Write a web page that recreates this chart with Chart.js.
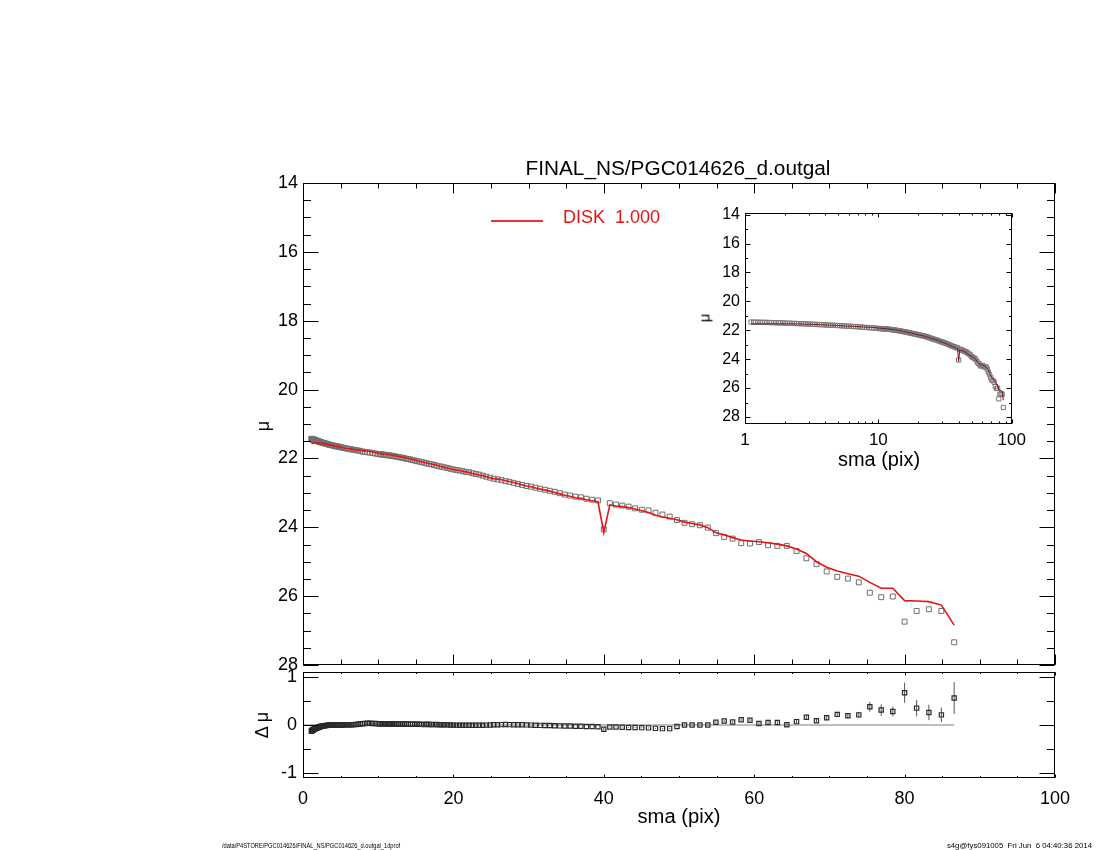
<!DOCTYPE html>
<html>
<head>
<meta charset="utf-8">
<title>PGC014626 1D profile</title>
<script src="https://cdn.jsdelivr.net/npm/chart.js@4.4.0/dist/chart.umd.min.js"></script>
<style>
html,body{margin:0;padding:0;background:#fff;}
#wrap{position:relative;width:1100px;height:850px;overflow:hidden;background:#fff;font-family:'Liberation Sans',Helvetica,Arial,sans-serif;color:#000;}
#wrap canvas{position:absolute;left:0;top:0;}
.t{position:absolute;white-space:pre;line-height:1;}
.red{color:rgb(230,20,20);}
#legLine{position:absolute;left:491px;top:220px;width:52px;height:2px;background:rgb(240,50,50);z-index:5;}
</style>
</head>
<body>
<div id="wrap">
  <canvas id="mainChart" width="1100" height="850"></canvas>
  <canvas id="resChart" width="1100" height="850"></canvas>
  <canvas id="insetChart" width="1100" height="850"></canvas>

  <div class="t" data-x="678" data-y="168" data-w="305" style="font-size:21px">FINAL_NS/PGC014626_d.outgal</div>
  <div id="legLine"></div>
  <div class="t red" data-x="563" data-y="217" data-w="97" data-a="l" style="font-size:18px">DISK  1.000</div>
  <div class="t" data-x="263" data-y="426" data-r="1" style="font-size:18px">μ</div>
  <div class="t" data-x="262" data-y="725" data-r="1" style="font-size:18px">Δ μ</div>
  <div class="t" data-x="679" data-y="816" data-w="83" style="font-size:19px">sma (pix)</div>
  <div class="t" data-x="704" data-y="318" data-r="1" style="font-size:15px">μ</div>
  <div class="t" data-x="879" data-y="460" data-w="82" style="font-size:19px">sma (pix)</div>
  <div class="t" data-x="222" data-y="846" data-w="178" data-a="l" data-s="1" style="font-size:8px">/data/P4STORE/PGC014626/FINAL_NS/PGC014626_d.outgal_1dprof</div>
  <div class="t" data-x="1092" data-y="846" data-w="145" data-a="r" data-s="1" style="font-size:8px">s4g@fys091005  Fri Jun  6 04:40:36 2014</div>
</div>
<script>
// ---- data ----
const sma = [
  1.11,1.16,1.20,1.25,1.30,1.35,1.41,1.46,1.52,1.58,
  1.65,1.71,1.78,1.85,1.93,2.00,2.08,2.17,2.25,2.34,
  2.44,2.53,2.64,2.74,2.85,2.96,3.08,3.21,3.33,3.47,
  3.61,3.75,3.90,4.06,4.22,4.39,4.56,4.75,4.94,5.13,
  5.34,5.55,5.78,6.01,6.25,6.50,6.76,7.03,7.31,7.60,
  7.90,8.22,8.55,8.89,9.25,9.62,
  10.00,10.20,10.41,10.61,10.83,11.04,11.26,11.49,11.72,11.95,
  12.19,12.44,12.69,12.94,13.20,13.46,13.73,14.01,14.29,14.57,
  14.86,15.16,15.46,15.77,16.09,16.41,16.74,17.07,17.41,17.76,
  18.12,18.48,18.85,19.23,19.61,20.00,20.40,20.81,21.23,21.65,
  22.08,22.53,22.98,23.44,23.90,24.38,24.87,25.37,25.87,26.39,
  26.92,27.46,28.01,28.57,29.14,29.72,30.32,30.92,31.54,32.17,
  32.81,33.47,34.14,34.82,35.52,36.23,36.95,37.69,38.45,39.22,
  40.00,
  40.80,41.62,42.45,43.30,44.16,45.05,45.95,46.87,47.80,48.76,
  49.73,50.73,51.74,52.78,53.83,54.91,56.01,57.13,58.27,59.44,
  60.63,61.84,63.08,64.34,65.63,66.94,68.28,69.64,71.04,72.46,
  73.91,75.38,76.89,78.43,80.00,81.60,83.23,84.89,86.59
];
// observed surface brightness
const mu = [
  21.43,21.44,21.44,21.44,21.45,21.45,21.45,21.46,21.46,21.47,
  21.47,21.48,21.48,21.49,21.49,21.50,21.51,21.51,21.52,21.53,
  21.53,21.54,21.55,21.55,21.56,21.57,21.57,21.58,21.59,21.60,
  21.61,21.61,21.62,21.63,21.64,21.65,21.65,21.66,21.67,21.68,
  21.69,21.70,21.71,21.72,21.73,21.74,21.75,21.76,21.77,21.78,
  21.80,21.81,21.82,21.83,21.84,21.86,
  21.87,21.88,21.88,21.89,21.89,21.90,21.91,21.91,21.92,21.93,
  21.94,21.95,21.96,21.97,21.98,21.99,22.01,22.02,22.03,22.05,
  22.06,22.08,22.09,22.11,22.12,22.14,22.16,22.17,22.19,22.21,
  22.23,22.24,22.26,22.28,22.30,22.32,22.34,22.35,22.37,22.39,
  22.40,22.43,22.45,22.47,22.50,22.53,22.56,22.59,22.61,22.63,
  22.66,22.68,22.71,22.74,22.77,22.80,22.82,22.85,22.88,22.91,
  22.94,22.97,23.01,23.05,23.08,23.11,23.13,23.17,23.20,23.22,
  24.06,
  23.30,23.34,23.37,23.40,23.45,23.49,23.51,23.58,23.63,23.69,
  23.79,23.87,23.91,23.94,24.01,24.17,24.28,24.33,24.46,24.47,
  24.43,24.52,24.54,24.54,24.69,24.90,25.07,25.28,25.44,25.49,
  25.60,25.90,26.03,26.01,26.74,26.43,26.38,26.43,27.34
];
// DISK model (red line)
const model = [
  21.56,21.56,21.56,21.55,21.56,21.55,21.55,21.55,21.55,21.55,
  21.55,21.55,21.55,21.55,21.55,21.55,21.56,21.55,21.56,21.56,
  21.56,21.56,21.57,21.57,21.58,21.58,21.58,21.59,21.60,21.60,
  21.61,21.61,21.62,21.63,21.64,21.65,21.65,21.66,21.67,21.68,
  21.69,21.70,21.71,21.72,21.72,21.73,21.74,21.75,21.76,21.76,
  21.78,21.78,21.79,21.80,21.81,21.83,
  21.85,21.86,21.86,21.87,21.87,21.88,21.89,21.89,21.90,21.91,
  21.92,21.93,21.94,21.95,21.96,21.97,21.99,22.00,22.01,22.04,
  22.04,22.07,22.08,22.10,22.11,22.13,22.15,22.16,22.18,22.20,
  22.22,22.24,22.26,22.28,22.30,22.32,22.34,22.35,22.37,22.39,
  22.41,22.44,22.46,22.48,22.50,22.53,22.56,22.59,22.60,22.62,
  22.65,22.67,22.70,22.73,22.77,22.80,22.82,22.86,22.89,22.92,
  22.95,22.99,23.03,23.07,23.10,23.14,23.16,23.20,23.23,23.26,
  24.15,
  23.35,23.38,23.40,23.43,23.47,23.52,23.57,23.65,23.70,23.74,
  23.78,23.85,23.89,23.93,24.01,24.16,24.22,24.30,24.37,24.40,
  24.42,24.45,24.49,24.54,24.63,24.76,25.00,25.16,25.27,25.35,
  25.42,25.60,25.77,25.77,26.13,26.14,26.16,26.26,26.84
];
// residual (data - model)
const dmu = [
  -0.13,-0.12,-0.115,-0.11,-0.105,-0.10,-0.095,-0.09,-0.085,-0.08,
  -0.075,-0.07,-0.065,-0.06,-0.055,-0.05,-0.045,-0.04,-0.035,-0.03,
  -0.027,-0.024,-0.02,-0.017,-0.015,-0.013,-0.01,-0.008,-0.006,-0.005,
  -0.004,-0.003,-0.002,0,0,0,0,0,0,0,
  0.002,0.003,0.004,0.005,0.006,0.007,0.008,0.01,0.015,0.02,
  0.025,0.03,0.035,0.035,0.033,0.03,
  0.025,0.025,0.025,0.025,0.025,0.025,0.022,0.02,0.022,0.025,
  0.022,0.02,0.018,0.02,0.022,0.02,0.018,0.02,0.018,0.015,
  0.017,0.015,0.015,0.013,0.012,0.014,0.012,0.01,0.008,0.01,
  0.006,0.004,0.004,0.002,0,-0.002,-0.003,-0.004,-0.005,-0.004,
  -0.005,-0.006,-0.005,-0.006,-0.004,-0.002,0,0.004,0.006,0.008,
  0.01,0.008,0.006,0.006,0.004,0.002,-0.002,-0.005,-0.008,-0.01,
  -0.012,-0.015,-0.018,-0.02,-0.022,-0.025,-0.027,-0.03,-0.03,-0.035,
  -0.09,
  -0.04,-0.04,-0.045,-0.05,-0.05,-0.055,-0.06,-0.07,-0.075,-0.075,
  -0.03,0,0,0,0,0.056,0.083,0.063,0.11,0.10,
  0.03,0.05,0.05,0.007,0.07,0.16,0.09,0.15,0.22,0.19,
  0.21,0.38,0.31,0.28,0.67,0.35,0.26,0.21,0.56
];
// residual error bars, for the last points (sma >= 40)
const dmuErr = [
  0.03,
  0.01,0.01,0.01,0.01,0.01,0.01,0.01,0.01,0.01,0.01,
  0.015,0.015,0.015,0.015,0.015,
  0.02,0.02,0.02,0.025,0.025,0.025,0.03,0.03,0.03,0.035,
  0.05,0.04,0.045,0.055,0.05,0.06,0.10,0.12,0.10,0.21,
  0.17,0.16,0.15,0.33
];

// ---- axis ticks ----
const smaTicks = [0,20,40,60,80,100];
const muTicks = [14,16,18,20,22,24,26,28];
const dmuTicks = [-1,0,1];
const logTicks = [1,10,100];

const RED = 'rgb(230,20,20)';
const FONT = "'Liberation Sans', Helvetica, Arial, sans-serif";
Chart.defaults.font.family = FONT;
Chart.defaults.color = '#000';

function steps(a, b, d){ const out = []; for(let v = a; v <= b + 1e-9; v += d) out.push(+v.toFixed(4)); return out; }

// IDL style box: frame + inward ticks on all four sides
function framePlugin(t){
  return {
    id:'idlFrame',
    afterDatasetsDraw(chart){
      const {ctx, chartArea:a, scales} = chart;
      const sx = scales.x, sy = scales.y;
      const L = Math.round(a.left)+0.5, R = Math.round(a.right)-0.5;
      const T = Math.round(a.top)+0.5, B = Math.round(a.bottom)-0.5;
      ctx.save();
      ctx.strokeStyle = '#000'; ctx.lineWidth = 1;
      ctx.strokeRect(L, T, R-L, B-T);
      ctx.beginPath();
      const xt = (vals, len) => vals.forEach(v => {
        const p = Math.round(sx.getPixelForValue(v))+0.5;
        ctx.moveTo(p,B); ctx.lineTo(p,B-len); ctx.moveTo(p,T); ctx.lineTo(p,T+len);
      });
      const yt = (vals, len) => vals.forEach(v => {
        const p = Math.round(sy.getPixelForValue(v))+0.5;
        ctx.moveTo(L,p); ctx.lineTo(L+len,p); ctx.moveTo(R,p); ctx.lineTo(R-len,p);
      });
      xt(t.xMajor, t.xLen); xt(t.xMinor, t.xLen/2);
      yt(t.yMajor, t.yLen); yt(t.yMinor, t.yLen/2);
      ctx.stroke();
      ctx.restore();
    }
  };
}

const pts = (ys) => sma.map((s,i) => ({x:s, y:ys[i]}));
const noAxisLines = { grid:{display:false, drawTicks:false}, border:{display:false} };
const baseOpts = { responsive:false, animation:false, events:[], plugins:{legend:{display:false}, tooltip:{enabled:false}} };

// ---- main profile ----
new Chart(document.getElementById('mainChart'), {
  type:'scatter',
  data:{ datasets:[
    { type:'line', data:pts(model), borderColor:RED, borderWidth:1.6, pointRadius:0, fill:false, tension:0 },
    { data:pts(mu), pointStyle:'rect', pointRadius:3.5, borderColor:'#707070', borderWidth:1, backgroundColor:'rgba(0,0,0,0)' }
  ]},
  options:{ ...baseOpts,
    layout:{ padding:{left:0, top:183, right:45, bottom:185} },
    scales:{
      x:{ type:'linear', min:0, max:100, display:false },
      y:{ type:'linear', min:14, max:28, reverse:true, ...noAxisLines,
          afterFit:s => { s.width = 303; },
          afterBuildTicks:s => { s.ticks = muTicks.map(v => ({value:v})); },
          ticks:{ padding:5, font:{size:18}, autoSkip:false } }
    }
  },
  plugins:[framePlugin({ xMajor:smaTicks, xMinor:steps(0,100,5), xLen:10, yMajor:muTicks, yMinor:steps(14,28,0.5), yLen:15 })]
});

// ---- residual panel ----
const off = sma.length - dmuErr.length;
const errLines = [];
dmuErr.forEach((e,i) => {
  const s = sma[off+i], d = dmu[off+i];
  errLines.push({x:s, y:d-e}, {x:s, y:d+e}, {x:s, y:null});
});
new Chart(document.getElementById('resChart'), {
  type:'scatter',
  data:{ datasets:[
    { data:pts(dmu), pointStyle:'rect', pointRadius:3, borderColor:'#2a2a2a', borderWidth:1.2, backgroundColor:'rgba(0,0,0,0)' },
    { type:'line', data:errLines, borderColor:'#555', borderWidth:1, pointRadius:0, spanGaps:false },
    { type:'line', data:[{x:0, y:0}, {x:sma[sma.length-1], y:0}], borderColor:'#a8a8a8', borderWidth:1.5, pointRadius:0 }
  ]},
  options:{ ...baseOpts,
    layout:{ padding:{left:0, top:672, right:45, bottom:37} },
    scales:{
      x:{ type:'linear', min:0, max:100, ...noAxisLines,
          afterFit:s => { s.height = 35; },
          afterBuildTicks:s => { s.ticks = smaTicks.map(v => ({value:v})); },
          ticks:{ padding:10, font:{size:18}, autoSkip:false, maxRotation:0 } },
      y:{ type:'linear', min:-1.1, max:1.1, ...noAxisLines,
          afterFit:s => { s.width = 303; },
          afterBuildTicks:s => { s.ticks = dmuTicks.map(v => ({value:v})); },
          ticks:{ padding:6, font:{size:18}, autoSkip:false } }
    }
  },
  plugins:[framePlugin({ xMajor:smaTicks, xMinor:steps(0,100,5), xLen:3, yMajor:dmuTicks, yMinor:[-0.5,0.5], yLen:15 })]
});

// ---- inset, log sma ----
const logMinor = [2,3,4,5,6,7,8,9,20,30,40,50,60,70,80,90];
new Chart(document.getElementById('insetChart'), {
  type:'scatter',
  data:{ datasets:[
    { type:'line', data:pts(model), borderColor:'rgb(120,20,20)', borderWidth:1, pointRadius:0, fill:false, tension:0 },
    { data:pts(mu), pointStyle:'rect', pointRadius:3, borderColor:'#7a7a7a', borderWidth:1, backgroundColor:'rgba(0,0,0,0)' }
  ]},
  options:{ ...baseOpts,
    layout:{ padding:{left:690, top:212.5, right:88.3, bottom:391.5} },
    scales:{
      x:{ type:'logarithmic', min:1, max:100, ...noAxisLines,
          afterFit:s => { s.height = 35; },
          afterBuildTicks:s => { s.ticks = logTicks.map(v => ({value:v})); },
          ticks:{ padding:7, font:{size:17}, autoSkip:false, maxRotation:0, callback:v => String(v) } },
      y:{ type:'linear', min:13.85, max:28.45, reverse:true, ...noAxisLines,
          afterFit:s => { s.width = 55; },
          afterBuildTicks:s => { s.ticks = muTicks.map(v => ({value:v})); },
          ticks:{ padding:5, font:{size:16}, autoSkip:false } }
    }
  },
  plugins:[framePlugin({ xMajor:logTicks, xMinor:logMinor, xLen:4, yMajor:muTicks, yMinor:steps(15,27,2), yLen:5 })]
});

// ---- place the html labels ----
document.querySelectorAll('.t').forEach(el => {
  const d = el.dataset;
  const x = +d.x, y = +d.y;
  let k = 1;
  if(d.w){
    const w = el.offsetWidth;
    if(d.s) k = d.w / w;
    else el.style.fontSize = (parseFloat(getComputedStyle(el).fontSize) * d.w / w) + 'px';
  }
  el.style.left = x + 'px';
  el.style.top = y + 'px';
  if(d.r){
    el.style.transform = 'translate(-50%,-50%) rotate(-90deg)';
  }else if(d.a === 'l'){
    el.style.transformOrigin = 'left center';
    el.style.transform = 'translate(0,-50%) scaleX(' + k + ')';
  }else if(d.a === 'r'){
    el.style.transformOrigin = 'right center';
    el.style.transform = 'translate(-100%,-50%) scaleX(' + k + ')';
  }else{
    el.style.transform = 'translate(-50%,-50%)';
  }
});
</script>
</body>
</html>
